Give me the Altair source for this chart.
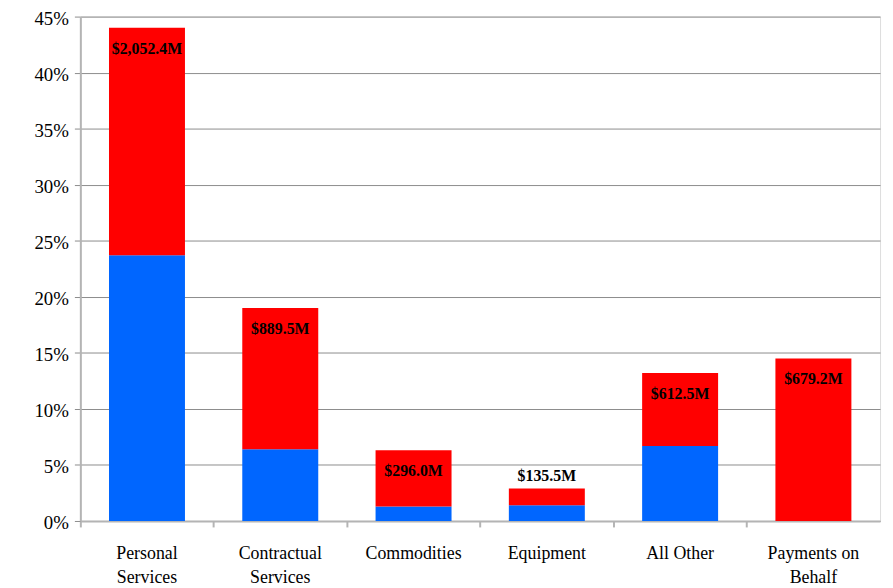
import altair as alt
import pandas as pd

categories = ["Personal Services", "Contractual Services", "Commodities",
              "Equipment", "All Other", "Payments on Behalf"]
blue_share = [0.237, 0.064, 0.013, 0.014, 0.067, 0.0]
red_share = [0.203, 0.126, 0.050, 0.015, 0.065, 0.145]
labels = ["$2,052.4M", "$889.5M", "$296.0M", "$135.5M", "$612.5M", "$679.2M"]
two_line = {
    "Personal Services": ["Personal", "Services"],
    "Contractual Services": ["Contractual", "Services"],
    "Payments on Behalf": ["Payments on", "Behalf"],
}

rows = []
for c, b, r in zip(categories, blue_share, red_share):
    rows.append({"category": c, "part": "blue", "order": 0, "value": b})
    rows.append({"category": c, "part": "red", "order": 1, "value": r})
bars_df = pd.DataFrame(rows)

lab_df = pd.DataFrame({
    "category": categories,
    "total": [b + r for b, r in zip(blue_share, red_share)],
    "label": labels,
})

expr = "datum.label"
for k, v in two_line.items():
    expr = f"datum.label == '{k}' ? ['{v[0]}', '{v[1]}'] : (" + expr + ")"

x_enc = alt.X(
    "category:N", sort=categories, title=None,
    scale=alt.Scale(paddingInner=0.43, paddingOuter=0.215),
    axis=alt.Axis(labelAngle=0, labelExpr=expr, labelFont="Liberation Serif",
                  labelFontSize=18, labelColor="black", labelPadding=18,
                  labelLineHeight=24, bandPosition=-0.373,
                  tickColor="#b4b4b4", tickSize=6, tickWidth=2,
                  domainColor="#b4b4b4", domainWidth=2,
                  labelBaseline="top"),
)
y_scale = alt.Scale(domain=[0, 0.45], nice=False)

bars = alt.Chart(bars_df).mark_bar().encode(
    x=x_enc,
    y=alt.Y("value:Q", stack="zero", scale=y_scale, title=None,
            axis=alt.Axis(format=".0%", values=[i * 0.05 for i in range(10)],
                          labelFont="Liberation Serif", labelFontSize=19,
                          labelColor="black", labelPadding=6, labelOffset=2,
                          gridColor="#8c8c8c", gridWidth=1,
                          tickColor="#8c8c8c", tickSize=6,
                          domain=True, domainColor="#b4b4b4", domainWidth=2)),
    color=alt.Color("part:N", scale=alt.Scale(domain=["blue", "red"],
                                              range=["#0066FF", "#FF0000"]),
                    legend=None),
    order=alt.Order("order:Q"),
)

inside = alt.Chart(lab_df).transform_filter("datum.total >= 0.05").mark_text(
    font="Liberation Serif", fontWeight="bold", fontSize=16, color="black",
    dy=21, baseline="middle",
).encode(x=alt.X("category:N", sort=categories), y=alt.Y("total:Q", scale=y_scale),
         text="label:N")

above = alt.Chart(lab_df).transform_filter("datum.total < 0.05").mark_text(
    font="Liberation Serif", fontWeight="bold", fontSize=16, color="black",
    dy=-13, baseline="middle",
).encode(x=alt.X("category:N", sort=categories), y=alt.Y("total:Q", scale=y_scale),
         text="label:N")

chart = alt.layer(bars, inside, above).properties(
    width=807, height=509,
    autosize=alt.AutoSizeParams(type="none"),
    padding={"left": 73, "top": 6, "right": 5, "bottom": 70},
).configure_view(stroke=None).configure(background="white")

chart.save("out.html", embed_options={"renderer": "svg", "actions": False})
